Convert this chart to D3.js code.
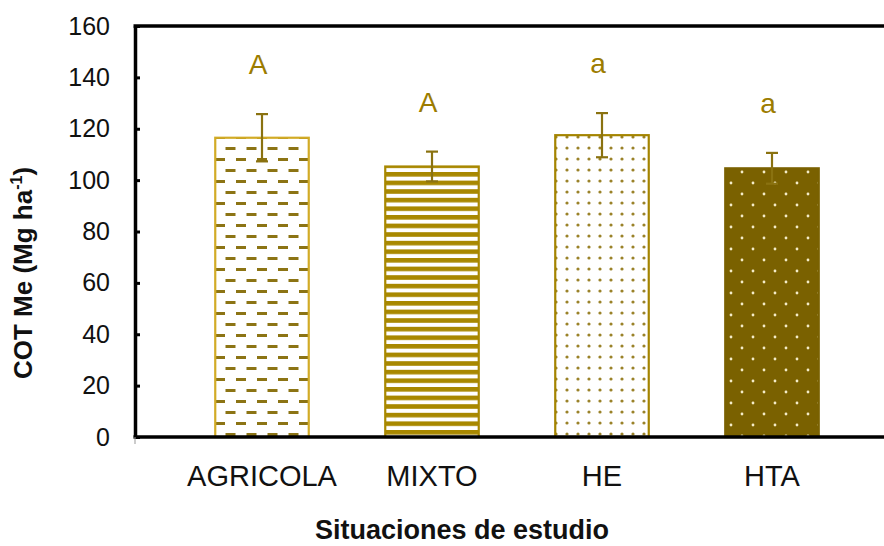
<!DOCTYPE html>
<html>
<head>
<meta charset="utf-8">
<script src="https://cdn.jsdelivr.net/npm/d3@7"></script>
<style>
  body { margin: 0; background: #fff; }
  svg { display: block; font-family: Arial, "Liberation Sans", sans-serif; }
</style>
</head>
<body>
<div id="chart"></div>
<script>
  // data
  let categories = ['AGRICOLA', 'MIXTO', 'HE', 'HTA'];
  let means = [116.5, 105.3, 117.5, 104.6];
  let errors = [9.2, 5.8, 8.6, 6.0];
  let letters = ['A', 'A', 'a', 'a'];
  let yTicks = [0, 20, 40, 60, 80, 100, 120, 140, 160];

  let width = 884;
  let height = 546;
  let plotLeft = 135, plotTop = 26, plotBottom = 437;

  let svg = d3.select('#chart').append('svg')
    .attr('width', width)
    .attr('height', height);

  let defs = svg.append('defs');

  // dashes (AGRICOLA)
  let pDash = defs.append('pattern')
    .attr('id', 'p-dash').attr('patternUnits', 'userSpaceOnUse')
    .attr('width', 21).attr('height', 22).attr('x', 215).attr('y', 4);
  pDash.append('rect').attr('x', 0).attr('y', 0).attr('width', 10).attr('height', 3).attr('fill', '#8c7414');
  pDash.append('rect').attr('x', 10.5).attr('y', 11).attr('width', 10).attr('height', 3).attr('fill', '#8c7414');

  // horizontal stripes (MIXTO)
  let pStripe = defs.append('pattern')
    .attr('id', 'p-stripe').attr('patternUnits', 'userSpaceOnUse')
    .attr('width', 10).attr('height', 8.6);
  pStripe.append('rect').attr('width', 10).attr('height', 8.6).attr('fill', '#fff');
  pStripe.append('rect').attr('y', 0).attr('width', 10).attr('height', 4.6).attr('fill', '#a88800');

  // small dots (HE)
  let pDot = defs.append('pattern')
    .attr('id', 'p-dot').attr('patternUnits', 'userSpaceOnUse')
    .attr('width', 11).attr('height', 11).attr('x', 562).attr('y', 0);
  pDot.append('circle').attr('cx', 5).attr('cy', 5).attr('r', 1.6).attr('fill', '#9a8228');

  // white dots on dark (HTA)
  let pDark = defs.append('pattern')
    .attr('id', 'p-dark').attr('patternUnits', 'userSpaceOnUse')
    .attr('width', 22).attr('height', 22).attr('x', 726).attr('y', 2);
  pDark.append('rect').attr('width', 22).attr('height', 22).attr('fill', '#7a6100');
  pDark.append('circle').attr('cx', 5).attr('cy', 5).attr('r', 1.4).attr('fill', '#f4ecc8');
  pDark.append('circle').attr('cx', 16).attr('cy', 16).attr('r', 1.4).attr('fill', '#f4ecc8');

  let fills = ['url(#p-dash)', 'url(#p-stripe)', 'url(#p-dot)', 'url(#p-dark)'];
  let strokes = ['#d2ab26', '#a88800', '#a48400', '#7a6100'];

  let x = d3.scaleBand()
    .domain(categories)
    .range([177, 857])
    .paddingInner(0.45)
    .paddingOuter(0.225);

  let y = d3.scaleLinear()
    .domain([0, 160])
    .range([plotBottom, plotTop]);

  // bars
  svg.selectAll('.bar')
    .data(categories)
    .enter().append('rect')
    .attr('class', 'bar')
    .attr('x', (d) => x(d))
    .attr('y', (d, i) => y(means[i]))
    .attr('width', x.bandwidth())
    .attr('height', (d, i) => y(0) - y(means[i]))
    .attr('fill', (d, i) => fills[i])
    .attr('stroke', (d, i) => strokes[i])
    .attr('stroke-width', 2.2);

  // error bars
  let eb = svg.selectAll('.err')
    .data(categories)
    .enter().append('g')
    .attr('class', 'err')
    .attr('stroke', '#8a7210')
    .attr('stroke-width', 2.2);

  eb.append('line')
    .attr('x1', (d) => x(d) + x.bandwidth() / 2)
    .attr('x2', (d) => x(d) + x.bandwidth() / 2)
    .attr('y1', (d, i) => y(means[i] + errors[i]))
    .attr('y2', (d, i) => y(means[i] - errors[i]));
  eb.append('line')
    .attr('x1', (d) => x(d) + x.bandwidth() / 2 - 6)
    .attr('x2', (d) => x(d) + x.bandwidth() / 2 + 6)
    .attr('y1', (d, i) => y(means[i] + errors[i]))
    .attr('y2', (d, i) => y(means[i] + errors[i]));
  eb.append('line')
    .attr('x1', (d) => x(d) + x.bandwidth() / 2 - 6)
    .attr('x2', (d) => x(d) + x.bandwidth() / 2 + 6)
    .attr('y1', (d, i) => y(means[i] - errors[i]))
    .attr('y2', (d, i) => y(means[i] - errors[i]));

  // letters
  svg.selectAll('.letter')
    .data(categories)
    .enter().append('text')
    .attr('class', 'letter')
    .attr('x', (d) => x(d) + x.bandwidth() / 2 - 4)
    .attr('y', (d, i) => y(means[i] + errors[i]) - 40)
    .attr('text-anchor', 'middle')
    .attr('font-size', 28)
    .attr('fill', '#9c7c00')
    .text((d, i) => letters[i]);

  // y axis
  let yAxis = d3.axisLeft(y)
    .tickValues(yTicks)
    .tickSizeInner(-5)
    .tickSizeOuter(0)
    .tickPadding(25);

  let gy = svg.append('g')
    .attr('transform', `translate(${plotLeft},0)`)
    .call(yAxis);
  gy.select('.domain').attr('stroke', '#000').attr('stroke-width', 3.5);
  gy.selectAll('.tick line').attr('stroke', '#000').attr('stroke-width', 3);
  gy.selectAll('.tick text')
    .attr('font-size', 25)
    .attr('fill', '#111')
    .attr('font-family', 'Arial, "Liberation Sans", sans-serif');

  // x axis labels, baseline and top border
  let xAxis = d3.axisBottom(x).tickSize(0).tickPadding(28);
  let gx = svg.append('g')
    .attr('transform', `translate(0,${plotBottom})`)
    .call(xAxis);
  gx.select('.domain').remove();
  gx.selectAll('.tick text')
    .attr('font-size', 29)
    .attr('fill', '#111')
    .attr('font-family', 'Arial, "Liberation Sans", sans-serif');

  svg.append('line')
    .attr('x1', plotLeft - 1.5).attr('x2', width)
    .attr('y1', plotBottom).attr('y2', plotBottom)
    .attr('stroke', '#000').attr('stroke-width', 3.5);
  svg.append('line')
    .attr('x1', plotLeft - 1.5).attr('x2', width)
    .attr('y1', plotTop).attr('y2', plotTop)
    .attr('stroke', '#000').attr('stroke-width', 3.5);
  svg.append('line')
    .attr('x1', plotLeft).attr('x2', plotLeft)
    .attr('y1', plotBottom).attr('y2', plotBottom + 7)
    .attr('stroke', '#999').attr('stroke-width', 1);

  // titles
  let yTitle = svg.append('text')
    .attr('transform', 'translate(32,273) rotate(-90)')
    .attr('text-anchor', 'middle')
    .attr('font-size', 26)
    .attr('font-weight', 'bold')
    .attr('fill', '#111');
  yTitle.append('tspan').text('COT Me (Mg ha');
  yTitle.append('tspan').attr('font-size', 16).attr('dy', -10).text('-1');
  yTitle.append('tspan').attr('dy', 10).text(')');

  svg.append('text')
    .attr('x', 462)
    .attr('y', 539)
    .attr('text-anchor', 'middle')
    .attr('font-size', 27)
    .attr('font-weight', 'bold')
    .attr('fill', '#111')
    .text('Situaciones de estudio');
</script>
</body>
</html>
